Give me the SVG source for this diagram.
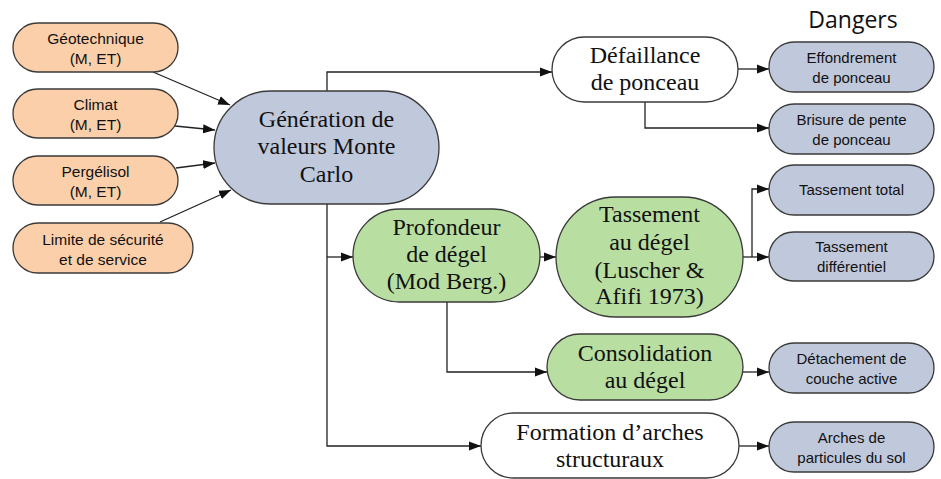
<svg xmlns="http://www.w3.org/2000/svg" width="941" height="479" viewBox="0 0 941 479">
<style>
.n{stroke:#3a3a3a;stroke-width:1.3}
.or{fill:#FBCFAA}
.bl{fill:#C0C8DB}
.gr{fill:#B8DEA2}
.wh{fill:#FFFFFF}
.s{font-family:"Liberation Sans",Arial,sans-serif;font-size:15.5px;fill:#111;text-anchor:middle}
.b{font-family:"Liberation Sans",Arial,sans-serif;font-size:15px;fill:#111;text-anchor:middle}
.r{font-family:"Liberation Serif","Times New Roman",serif;font-size:24px;fill:#111;text-anchor:middle}
.c{fill:none;stroke:#222;stroke-width:1.3}
</style>
<defs>
<marker id="a" markerUnits="userSpaceOnUse" markerWidth="12" markerHeight="10" refX="12" refY="5" orient="auto">
<path d="M0,0.5 L12,5 L0,9.5 Z" fill="#111"/>
</marker>
</defs>
<text x="853" y="28" style="font-family:'Open Sans','Liberation Sans',sans-serif;font-size:23px;fill:#111;text-anchor:middle">Dangers</text>
<g id="connectors">
<line class="c" x1="153" y1="72" x2="230" y2="105" marker-end="url(#a)"/>
<line class="c" x1="175" y1="126" x2="215" y2="130" marker-end="url(#a)"/>
<line class="c" x1="176" y1="168" x2="215" y2="163" marker-end="url(#a)"/>
<line class="c" x1="160" y1="222" x2="231" y2="190" marker-end="url(#a)"/>
<polyline class="c" points="327,91 327,72 552,72" marker-end="url(#a)"/>
<polyline class="c" points="327,204 327,446 481,446" marker-end="url(#a)"/>
<line class="c" x1="327" y1="257" x2="353" y2="257" marker-end="url(#a)"/>
<line class="c" x1="540" y1="257" x2="556" y2="257" marker-end="url(#a)"/>
<polyline class="c" points="447,302 447,372 547,372" marker-end="url(#a)"/>
<line class="c" x1="738" y1="69" x2="769" y2="69" marker-end="url(#a)"/>
<polyline class="c" points="645,102 645,128 769,128" marker-end="url(#a)"/>
<line class="c" x1="743" y1="257" x2="769" y2="257" marker-end="url(#a)"/>
<polyline class="c" points="752,257 752,189 769,189" marker-end="url(#a)"/>
<line class="c" x1="743" y1="372" x2="769" y2="372" marker-end="url(#a)"/>
<line class="c" x1="739" y1="446" x2="769" y2="446" marker-end="url(#a)"/>
</g>
<g id="geotechnique"><rect class="n or" x="13" y="23" width="165" height="49" rx="24.5"/><text class="s" x="95.5" y="44">Géotechnique</text><text class="s" x="95.5" y="64">(M, ET)</text></g>
<g id="climat"><rect class="n or" x="13" y="89" width="165" height="49" rx="24.5"/><text class="s" x="95.5" y="110">Climat</text><text class="s" x="95.5" y="130">(M, ET)</text></g>
<g id="pergelisol"><rect class="n or" x="13" y="156" width="165" height="49" rx="24.5"/><text class="s" x="95.5" y="177">Pergélisol</text><text class="s" x="95.5" y="197">(M, ET)</text></g>
<g id="limite"><rect class="n or" x="13" y="223" width="180" height="50" rx="25"/><text class="s" x="103" y="245">Limite de sécurité</text><text class="s" x="103" y="265">et de service</text></g>
<g id="generation"><rect class="n bl" x="214" y="91" width="225" height="113" rx="56.5"/><text class="r" x="326.5" y="127">Génération de</text><text class="r" x="326.5" y="154">valeurs Monte</text><text class="r" x="326.5" y="182">Carlo</text></g>
<g id="defaillance"><rect class="n wh" x="552" y="37" width="186" height="65" rx="32.5"/><text class="r" x="645" y="63">Défaillance</text><text class="r" x="645" y="90">de ponceau</text></g>
<g id="profondeur"><rect class="n gr" x="353" y="209" width="187" height="93" rx="46.5"/><text class="r" x="446.5" y="235">Profondeur</text><text class="r" x="446.5" y="262">de dégel</text><text class="r" x="446.5" y="289">(Mod Berg.)</text></g>
<g id="tassement"><rect class="n gr" x="556" y="197" width="187" height="120" rx="60"/><text class="r" x="649.5" y="222">Tassement</text><text class="r" x="649.5" y="250">au dégel</text><text class="r" x="649.5" y="278">(Luscher &amp;</text><text class="r" x="649.5" y="304">Afifi 1973)</text></g>
<g id="consolidation"><rect class="n gr" x="547" y="334" width="196" height="66" rx="33"/><text class="r" x="645" y="361">Consolidation</text><text class="r" x="645" y="388">au dégel</text></g>
<g id="formation"><rect class="n wh" x="481" y="413" width="258" height="65" rx="32.5"/><text class="r" x="610" y="440">Formation d’arches</text><text class="r" x="610" y="467">structuraux</text></g>
<g id="effondrement"><rect class="n bl" x="769" y="42" width="165" height="50" rx="25"/><text class="b" x="851.5" y="63">Effondrement</text><text class="b" x="851.5" y="83">de ponceau</text></g>
<g id="brisure"><rect class="n bl" x="769" y="104" width="165" height="50" rx="25"/><text class="b" x="851.5" y="125">Brisure de pente</text><text class="b" x="851.5" y="145">de ponceau</text></g>
<g id="tassement-total"><rect class="n bl" x="769" y="165" width="165" height="50" rx="25"/><text class="b" x="851.5" y="195">Tassement total</text></g>
<g id="tassement-differentiel"><rect class="n bl" x="769" y="232" width="165" height="49" rx="24.5"/><text class="b" x="851.5" y="252">Tassement</text><text class="b" x="851.5" y="272">différentiel</text></g>
<g id="detachement"><rect class="n bl" x="769" y="343" width="165" height="50" rx="25"/><text class="b" x="851.5" y="364">Détachement de</text><text class="b" x="851.5" y="384">couche active</text></g>
<g id="arches"><rect class="n bl" x="769" y="422" width="165" height="50" rx="25"/><text class="b" x="851.5" y="443">Arches de</text><text class="b" x="851.5" y="463">particules du sol</text></g>
</svg>
